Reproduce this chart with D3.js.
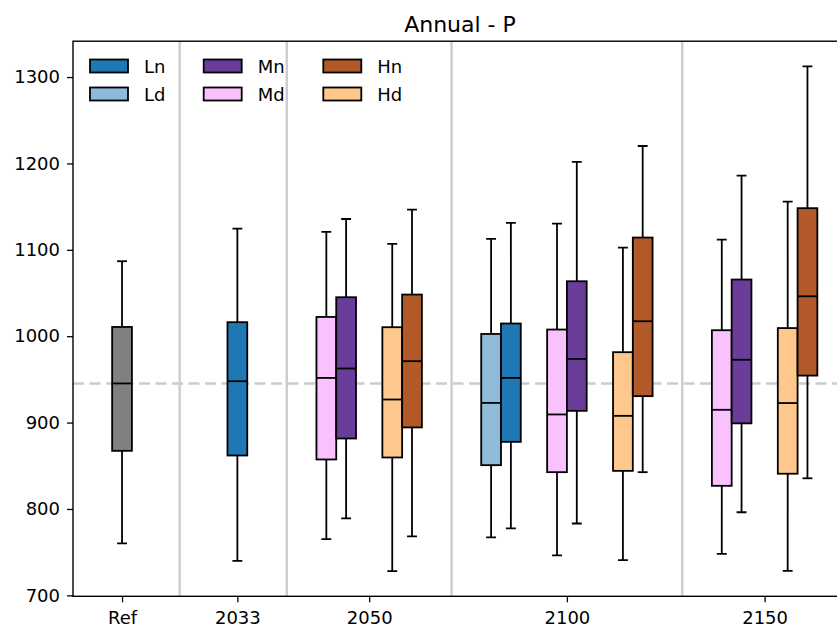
<!DOCTYPE html>
<html>
<head>
<meta charset="utf-8">
<script src="https://cdn.jsdelivr.net/npm/d3@7/dist/d3.min.js"></script>
<style>
  html, body { margin: 0; padding: 0; background: #fff; }
  svg { display: block; }
  text { font-family: "DejaVu Sans", sans-serif; fill: #000; }
</style>
</head>
<body>
<svg id="chart" width="837" height="628"></svg>
<script>
// ---------------- data ----------------
const groups = ["Ref", "2033", "2050", "2100", "2150"];
const boxGroup = ["Ref", "2033", "2050", "2050", "2050", "2050",
  "2100", "2100", "2100", "2100", "2100", "2100",
  "2150", "2150", "2150", "2150"];
const boxScenario = ["Ref", "Ln", "Md", "Mn", "Hd", "Hn",
  "Ld", "Ln", "Md", "Mn", "Hd", "Hn",
  "Md", "Mn", "Hd", "Hn"];
const whiskerLow = [760.1, 740.0, 765.1, 789.0, 728.1, 768.2,
  767.1, 777.5, 746.2, 783.2, 740.8, 842.6,
  747.9, 796.2, 728.4, 835.5];
const q1 = [867.3, 861.9, 857.3, 881.6, 859.6, 894.4,
  850.7, 877.7, 842.6, 913.6, 844.1, 930.6,
  826.8, 899.1, 840.8, 954.4];
const median = [945.3, 947.9, 951.7, 962.6, 926.7, 971.1,
  922.8, 951.7, 909.4, 973.7, 907.8, 1017.3,
  914.8, 972.7, 922.6, 1046.2];
const q3 = [1010.7, 1016.2, 1022.3, 1045.1, 1010.4, 1048.2,
  1002.6, 1014.7, 1007.7, 1063.6, 981.5, 1114.2,
  1006.9, 1065.6, 1009.4, 1148.2];
const whiskerHigh = [1086.8, 1124.6, 1120.7, 1135.7, 1106.8, 1146.6,
  1112.6, 1131.1, 1130.4, 1201.7, 1102.6, 1220.2,
  1111.9, 1185.8, 1155.7, 1312.3];
const yTicks = [700, 800, 900, 1000, 1100, 1200, 1300];
const legendLabels = ["Ln", "Ld", "Mn", "Md", "Hn", "Hd"];
const titleText = "Annual - P";

// ---------------- styles / layout ----------------
const colors = {
  Ref: "#808080", Ln: "#1f78b4", Ld: "#8fbbdb",
  Mn: "#6a3d9a", Md: "#f9c1fd", Hn: "#b15928", Hd: "#fec88d"
};
const plot = { left: 73, right: 847, top: 41.2, bottom: 596.3 };
const boxW = 0.3;
const groupCenters = { "Ref": 0, "2033": 1.75, "2050": 3.75, "2100": 6.75, "2150": 9.75 };
const FS = 17.5;

const svg = d3.select("#chart");

const x = d3.scaleLinear().domain([-0.744, 11.0]).range([plot.left, plot.right]);
const y = d3.scaleLinear().domain([698.9, 1341.5]).range([plot.bottom, plot.top]);

// compute box positions
const boxes = boxGroup.map((g, i) => ({
  group: g, scen: boxScenario[i], lo: whiskerLow[i], q1: q1[i],
  med: median[i], q3: q3[i], hi: whiskerHigh[i]
}));
const pairOrder = ["L", "M", "H"];
const pairCentersByGroup = {};
groups.forEach(g => {
  const bs = boxes.filter(b => b.group === g);
  if (bs.length === 1) {
    bs[0].pos = groupCenters[g];
    pairCentersByGroup[g] = [groupCenters[g]];
    return;
  }
  const letters = pairOrder.filter(l => bs.some(b => b.scen[0] === l));
  const k = letters.length;
  const centers = letters.map((l, j) => groupCenters[g] + (j - (k - 1) / 2));
  pairCentersByGroup[g] = centers;
  bs.forEach(b => {
    const c = centers[letters.indexOf(b.scen[0])];
    b.pos = c + (b.scen[1] === "d" ? -boxW / 2 : boxW / 2);
  });
});

// separators between groups
const seps = [];
for (let i = 0; i < groups.length - 1; i++) {
  const a = pairCentersByGroup[groups[i]];
  const b = pairCentersByGroup[groups[i + 1]];
  seps.push((a[a.length - 1] + b[0]) / 2);
}

svg.append("clipPath").attr("id", "plotclip")
  .append("rect").attr("x", plot.left).attr("y", plot.top)
  .attr("width", plot.right - plot.left).attr("height", plot.bottom - plot.top);

const gPlot = svg.append("g").attr("clip-path", "url(#plotclip)");

// separators
gPlot.selectAll("line.sep").data(seps).enter().append("line")
  .attr("class", "sep")
  .attr("x1", d => x(d)).attr("x2", d => x(d))
  .attr("y1", plot.top).attr("y2", plot.bottom)
  .attr("stroke", "#cccccc").attr("stroke-width", 2.4);

// reference median dashed line
const refMedian = boxes.find(b => b.scen === "Ref").med;
gPlot.append("line")
  .attr("x1", plot.left).attr("x2", plot.right)
  .attr("y1", y(refMedian)).attr("y2", y(refMedian))
  .attr("stroke", "#cccccc").attr("stroke-width", 2.6)
  .attr("stroke-dasharray", "11,5.5");

// boxes
const bx = gPlot.selectAll("g.box").data(boxes).enter().append("g").attr("class", "box");
const lw = 1.8;
bx.append("line")
  .attr("x1", d => x(d.pos)).attr("x2", d => x(d.pos))
  .attr("y1", d => y(d.hi)).attr("y2", d => y(d.q3))
  .attr("stroke", "#000").attr("stroke-width", lw);
bx.append("line")
  .attr("x1", d => x(d.pos)).attr("x2", d => x(d.pos))
  .attr("y1", d => y(d.q1)).attr("y2", d => y(d.lo))
  .attr("stroke", "#000").attr("stroke-width", lw);
bx.append("line")
  .attr("x1", d => x(d.pos - boxW / 4)).attr("x2", d => x(d.pos + boxW / 4))
  .attr("y1", d => y(d.hi)).attr("y2", d => y(d.hi))
  .attr("stroke", "#000").attr("stroke-width", lw);
bx.append("line")
  .attr("x1", d => x(d.pos - boxW / 4)).attr("x2", d => x(d.pos + boxW / 4))
  .attr("y1", d => y(d.lo)).attr("y2", d => y(d.lo))
  .attr("stroke", "#000").attr("stroke-width", lw);
bx.append("rect")
  .attr("x", d => x(d.pos - boxW / 2))
  .attr("width", d => x(d.pos + boxW / 2) - x(d.pos - boxW / 2))
  .attr("y", d => y(d.q3))
  .attr("height", d => y(d.q1) - y(d.q3))
  .attr("fill", d => colors[d.scen])
  .attr("stroke", "#000").attr("stroke-width", lw);
bx.append("line")
  .attr("x1", d => x(d.pos - boxW / 2)).attr("x2", d => x(d.pos + boxW / 2))
  .attr("y1", d => y(d.med)).attr("y2", d => y(d.med))
  .attr("stroke", "#000").attr("stroke-width", lw);

// axes
const yAxis = d3.axisLeft(y).tickValues(yTicks).tickSize(6).tickPadding(7).tickFormat(d3.format("d"));
const gy = svg.append("g").attr("transform", `translate(${plot.left},0)`).call(yAxis);
gy.select(".domain").remove();
gy.selectAll(".tick line").attr("stroke", "#000").attr("stroke-width", 1.3);
gy.selectAll(".tick text").style("font-size", "18px").style("font-family", "DejaVu Sans");

const xAxis = d3.axisBottom(x).tickValues(groups.map(g => groupCenters[g]))
  .tickFormat((d, i) => groups[i]).tickSize(6).tickPadding(9);
const gx = svg.append("g").attr("transform", `translate(0,${plot.bottom})`).call(xAxis);
gx.select(".domain").remove();
gx.selectAll(".tick line").attr("stroke", "#000").attr("stroke-width", 1.3);
gx.selectAll(".tick text").style("font-size", "18px").style("font-family", "DejaVu Sans");

// spines
svg.append("rect")
  .attr("x", plot.left).attr("y", plot.top)
  .attr("width", plot.right - plot.left).attr("height", plot.bottom - plot.top)
  .attr("fill", "none").attr("stroke", "#000").attr("stroke-width", 1.4);

// title
svg.append("text")
  .attr("x", (plot.left + plot.right) / 2).attr("y", 31.5)
  .attr("text-anchor", "middle")
  .style("font-size", "22px")
  .text(titleText);

// legend: 3 columns x 2 rows
const colX = [90, 203.7, 323.3];
const rowY = [66, 94];
const lg = svg.append("g").selectAll("g").data(legendLabels).enter().append("g")
  .attr("transform", (d, i) => `translate(${colX[Math.floor(i / 2)]},${rowY[i % 2]})`);
lg.append("rect")
  .attr("x", 0).attr("y", -6.5).attr("width", 38).attr("height", 13)
  .attr("fill", d => colors[d]).attr("stroke", "#000").attr("stroke-width", lw);
lg.append("text")
  .attr("x", 54).attr("y", 6.5)
  .style("font-size", "18px")
  .text(d => d);
</script>
</body>
</html>
